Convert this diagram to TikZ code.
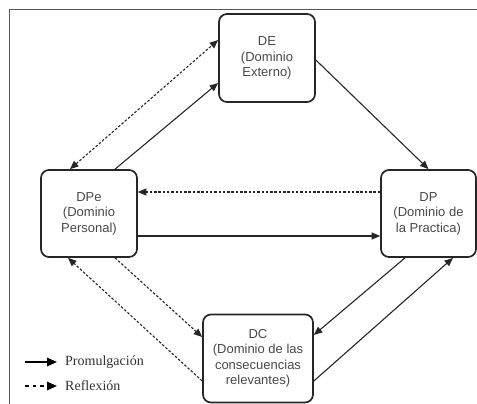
\documentclass[tikz,border=0pt]{standalone}
\usepackage{fontspec}
\setmainfont{Liberation Sans}
\newfontfamily\legendfont{Liberation Serif}
\usetikzlibrary{arrows.meta}
\definecolor{boxtext}{HTML}{484848}
\definecolor{legtext}{HTML}{333333}
\definecolor{framegray}{HTML}{555555}
\begin{document}
\begin{tikzpicture}[x=1pt,y=-1pt,
  dombox/.style={draw=black!85, line width=1.7pt, rounded corners=8pt, align=center,
    font=\fontsize{13}{15.5}\selectfont, text=boxtext, inner sep=0pt},
  promul/.style={draw=black!85, line width=1.1pt, -{Triangle[length=8.5pt,width=7pt]}},
  reflex/.style={draw=black!85, line width=1.1pt, dash pattern=on 2.5pt off 1.8pt, -{Triangle[length=8.5pt,width=7pt]}},
  legarrow/.style={draw=black, line width=1.6pt, -{Triangle[length=10pt,width=8.5pt]}},
  legtxt/.style={anchor=west, font=\legendfont\fontsize{14}{16}\selectfont, text=legtext, inner sep=0pt}
]
\useasboundingbox (0,0) rectangle (477,404);
\draw[framegray, line width=1pt] (9,404) -- (9,10) -- (477,10);

\node[dombox, minimum width=96pt, minimum height=88pt] (DE) at (267,58) {DE\\(Dominio\\Externo)};
\node[dombox, minimum width=96pt, minimum height=87pt] (DPe) at (89,213.5) {DPe\\(Dominio\\Personal)};
\node[dombox, minimum width=95pt, minimum height=87pt] (DP) at (428.5,213.5) {DP\\(Dominio de\\la Practica)};
\node[dombox, minimum width=110pt, minimum height=88pt] (DC) at (258,358.5) {DC\\(Dominio de las\\consecuencias\\relevantes)};

% connectors
\draw[promul] ([xshift=26pt]DPe.north) -- ([yshift=-25pt]DE.west);
\draw[reflex, {Triangle[length=8.5pt,width=7pt]}-{Triangle[length=8.5pt,width=7pt]}] ([xshift=-19pt]DPe.north) -- ([yshift=18pt]DE.west);
\draw[draw=black!85, line width=1pt, dash pattern=on 2pt off 1.5pt] ([yshift=14pt]DE.west) -- ([yshift=-22pt]DE.west);
\draw[promul] ([yshift=-2pt]DE.east) -- (DP.north);
\draw[reflex] ([yshift=21.5pt]DP.west) -- ([yshift=21.5pt]DPe.east);
\draw[promul] ([yshift=-22.5pt]DPe.east) -- ([yshift=-22.5pt]DP.west);
\draw[reflex] ([xshift=26pt]DPe.south) -- ([yshift=21.5pt]DC.west);
\draw[reflex] ([yshift=-22.5pt]DC.west) -- ([xshift=-21pt]DPe.south);
\draw[promul] ([xshift=-23.5pt]DP.south) -- ([yshift=23.5pt]DC.east);
\draw[promul] ([yshift=-22.5pt]DC.east) -- ([xshift=24.5pt]DP.south);

% legend
\coordinate (l1a) at (25,362);
\coordinate (l1b) at (57,362);
\coordinate (l2a) at (25,386);
\coordinate (l2b) at (57,386);
\draw[legarrow] (l1a) -- (l1b);
\draw[legarrow, dash pattern=on 3.5pt off 4pt] (l2a) -- (l2b);
\node[legtxt] (lp) at (65,362) {Promulgación};
\node[legtxt] (lr) at (65,386) {Reflexión};
\end{tikzpicture}
\end{document}
